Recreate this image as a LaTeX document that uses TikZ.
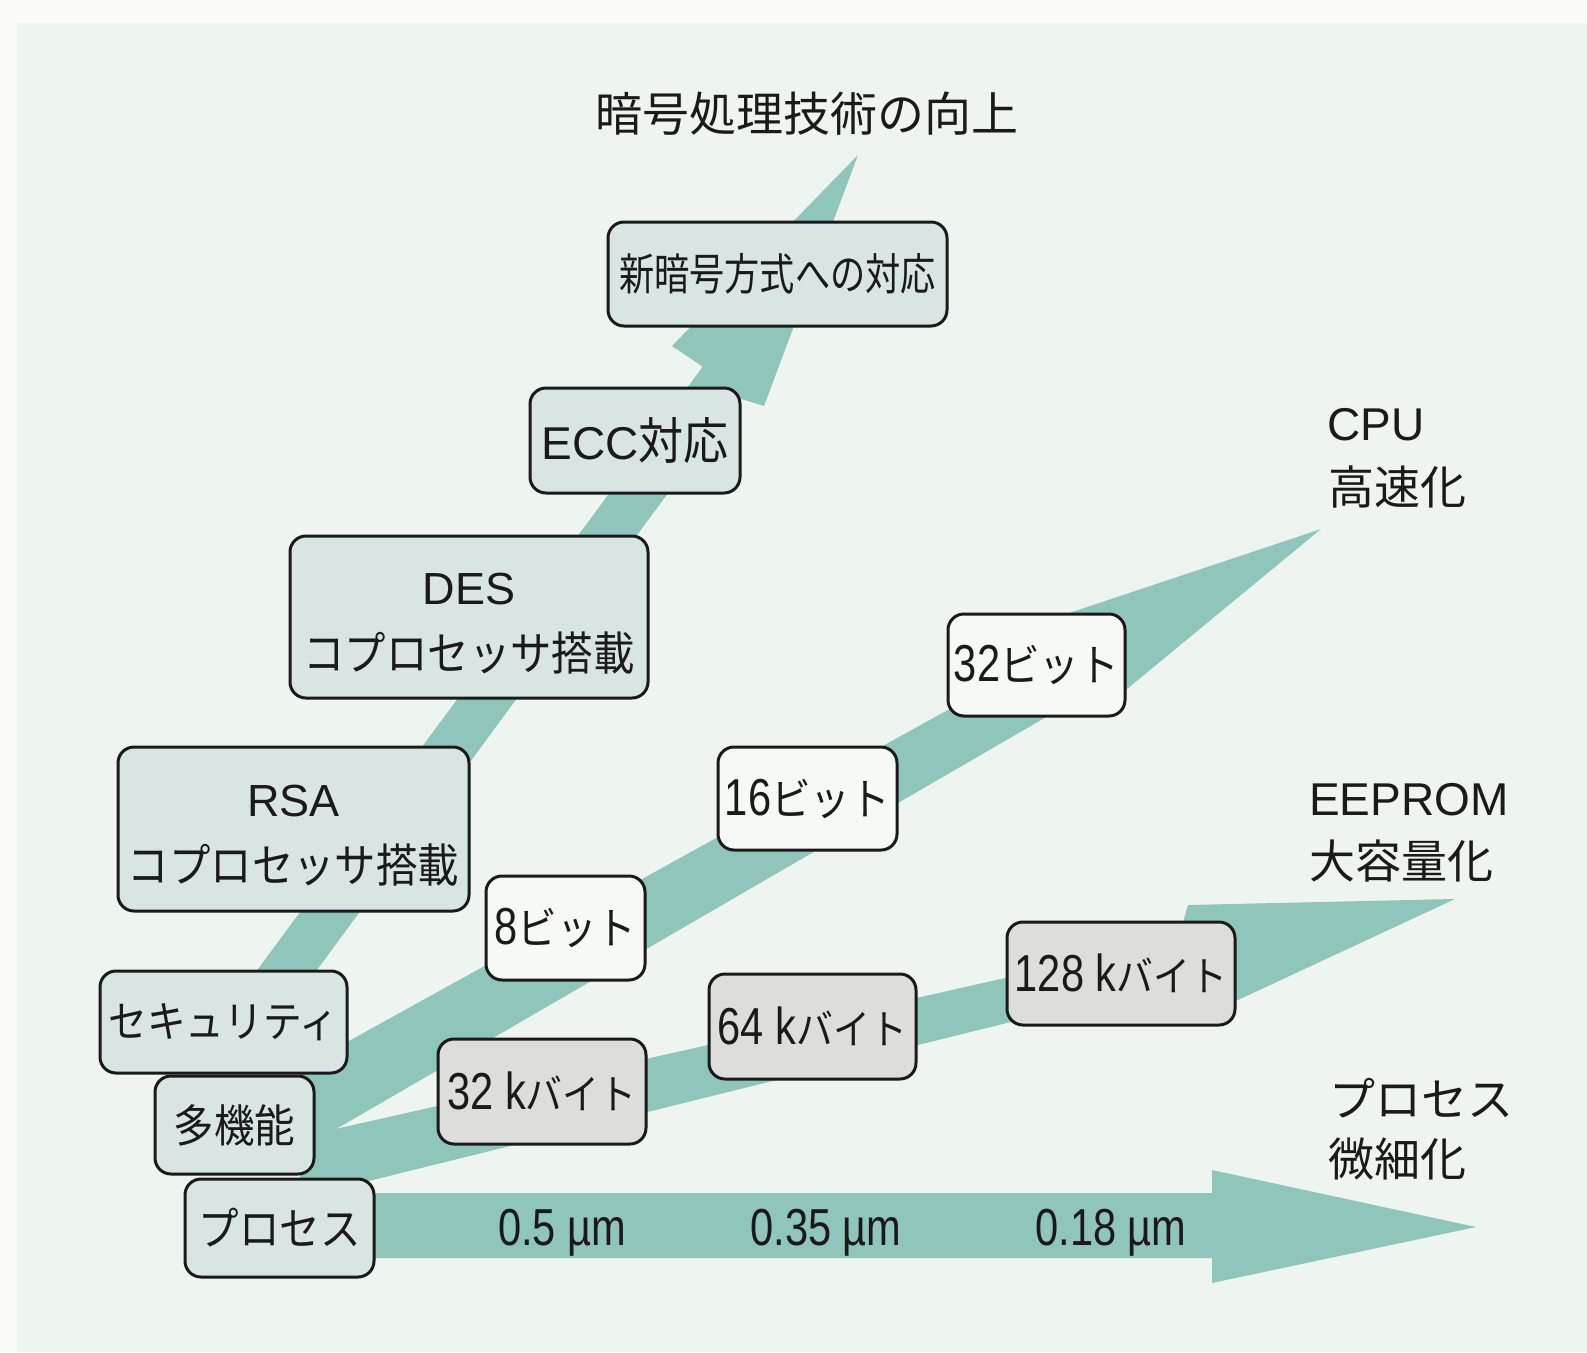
\documentclass[tikz,border=0pt]{standalone}
\usepackage{fontspec}
\setmainfont{Noto Sans CJK JP}
\newfontfamily\lat{Liberation Sans}
\newfontfamily\cond[FakeStretch=0.8]{Liberation Sans}
\newfontfamily\jpn[FakeStretch=0.8]{Noto Sans CJK JP}
\newfontfamily\jpc[FakeStretch=0.9]{Noto Sans CJK JP}
\newcommand\fsz[1]{\fontsize{#1pt}{#1pt}\selectfont}
\newcommand\dg[1]{{\cond\fsz{52}#1}}
\definecolor{outerbg}{HTML}{FAFBF6}
\definecolor{innerbg}{HTML}{EEF5F0}
\definecolor{arrowc}{HTML}{8FC5BB}
\definecolor{cfill}{HTML}{D8E5E2}
\definecolor{wfill}{HTML}{F7F9F6}
\definecolor{gfill}{HTML}{DDDEDC}
\definecolor{ink}{HTML}{1A1A1A}
\tikzset{
  bx/.style={draw=ink, line width=3pt, rounded corners=16pt, inner sep=0pt, text=ink, align=center},
  cbx/.style={bx, fill=cfill},
  wbx/.style={bx, fill=wfill},
  gbx/.style={bx, fill=gfill},
  band/.style={fill=arrowc, draw=none},
  lbl/.style={text=ink, inner sep=0pt, font=\fsz{46}},
}
\begin{document}
\begin{tikzpicture}[x=1pt,y=-1pt]
\useasboundingbox (0,0) rectangle (1587,1352);
\fill[outerbg] (0,0) rectangle (1587,1352);
\fill[innerbg] (17,23) rectangle (1587,1352);

% process arrow
\coordinate (p1) at (300,1193); \coordinate (p2) at (1212,1193);
\coordinate (p3) at (1212,1170); \coordinate (p4) at (1476,1227);
\coordinate (p5) at (1212,1283); \coordinate (p6) at (1212,1258);
\coordinate (p7) at (300,1258);
\fill[band] (p1) -- (p2) -- (p3) -- (p4) -- (p5) -- (p6) -- (p7) -- cycle;

% EEPROM arrow
\coordinate (e1) at (300,1137); \coordinate (e2) at (1178,939);
\coordinate (e3) at (1188,905); \coordinate (e4) at (1455,899);
\coordinate (e5) at (1225,1006); \coordinate (e6) at (1225,969);
\coordinate (e7) at (300,1198);
\fill[band] (e1) -- (e2) -- (e3) -- (e4) -- (e5) -- (e6) -- (e7) -- cycle;

% CPU arrow
\coordinate (c1) at (300,1068); \coordinate (c2) at (1060,648);
\coordinate (c3) at (1060,616); \coordinate (c4) at (1321,529);
\coordinate (c5) at (1110,703); \coordinate (c6) at (1110,680);
\coordinate (c7) at (300,1150);
\fill[band] (c1) -- (c2) -- (c3) -- (c4) -- (c5) -- (c6) -- (c7) -- cycle;

% crypto arrow
\coordinate (k1) at (245.7,985.7); \coordinate (k2) at (702.7,366.7);
\coordinate (k3) at (672,346); \coordinate (k4) at (858,155);
\coordinate (k5) at (764,406); \coordinate (k6) at (738,398);
\coordinate (k7) at (284.3,1014.3);
\fill[band] (k1) -- (k2) -- (k3) -- (k4) -- (k5) -- (k6) -- (k7) -- cycle;

% title
\node[lbl, font=\fsz{47}] (title) at (807,114) {暗号処理技術の向上};

% crypto boxes
\node[cbx, minimum width=339pt, minimum height=104pt, font=\fsz{44}] (newc) at (777.5,274) {{\jpn 新暗号方式への対応}};
\node[cbx, minimum width=210pt, minimum height=105pt, font=\fsz{46}] (ecc) at (635,440.5) {{\lat ECC}{\jpc\fsz{50}対応}};
\node[cbx, minimum width=358pt, minimum height=162pt, font=\fontsize{46pt}{66pt}\selectfont] (des) at (469,617) {\rule{0pt}{44pt}{\lat\fsz{45}DES}\\{\jpc コプロセッサ搭載}};
\node[cbx, minimum width=351pt, minimum height=164pt, font=\fontsize{46pt}{66pt}\selectfont] (rsa) at (293.5,829) {\rule{0pt}{44pt}{\lat\fsz{45}RSA}\\{\jpc コプロセッサ搭載}};
\node[cbx, minimum width=247pt, minimum height=102pt, font=\fsz{43}] (sec) at (223.5,1022) {{\jpc セキュリティ}};
\node[cbx, minimum width=159pt, minimum height=98pt, font=\fsz{45}] (multi) at (234.5,1125) {{\jpc 多機能}};
\node[cbx, minimum width=189pt, minimum height=98pt, font=\fsz{45}] (proc) at (279.5,1228) {{\jpc プロセス}};

% CPU boxes
\node[wbx, minimum width=159pt, minimum height=104pt, font=\fsz{44}] (b8) at (565.5,928) {\dg{8}{\jpc ビット}};
\node[wbx, minimum width=179pt, minimum height=103pt, font=\fsz{44}] (b16) at (807.5,798.5) {\dg{16}{\jpc ビット}};
\node[wbx, minimum width=177pt, minimum height=102pt, font=\fsz{44}] (b32) at (1036.5,665) {\dg{32}{\jpc ビット}};

% EEPROM boxes
\node[gbx, minimum width=208pt, minimum height=105pt, font=\fsz{41}] (k32) at (542,1091.5) {\dg{32 k}{\jpc バイト}};
\node[gbx, minimum width=207pt, minimum height=105pt, font=\fsz{41}] (k64) at (812.5,1026.5) {\dg{64 k}{\jpc バイト}};
\node[gbx, minimum width=228pt, minimum height=103pt, font=\fsz{41}] (k128) at (1121,973.5) {\dg{128 k}{\jpc バイト}};

% process labels
\node[lbl, anchor=base, font=\cond\fsz{52}] (um5) at (562,1245) {0.5 µm};
\node[lbl, anchor=base, font=\cond\fsz{52}] (um35) at (826,1245) {0.35 µm};
\node[lbl, anchor=base, font=\cond\fsz{52}] (um18) at (1111,1245) {0.18 µm};

% right labels
\node[lbl, anchor=west] (cpuA) at (1327,425) {\lat CPU};
\node[lbl, anchor=west] (cpuB) at (1328,487) {高速化};
\node[lbl, anchor=west] (eepA) at (1309,800) {\lat EEPROM};
\node[lbl, anchor=west] (eepB) at (1309,861) {大容量化};
\node[lbl, anchor=west] (prcA) at (1329,1098) {プロセス};
\node[lbl, anchor=west] (prcB) at (1328,1159) {微細化};
\end{tikzpicture}
\end{document}
